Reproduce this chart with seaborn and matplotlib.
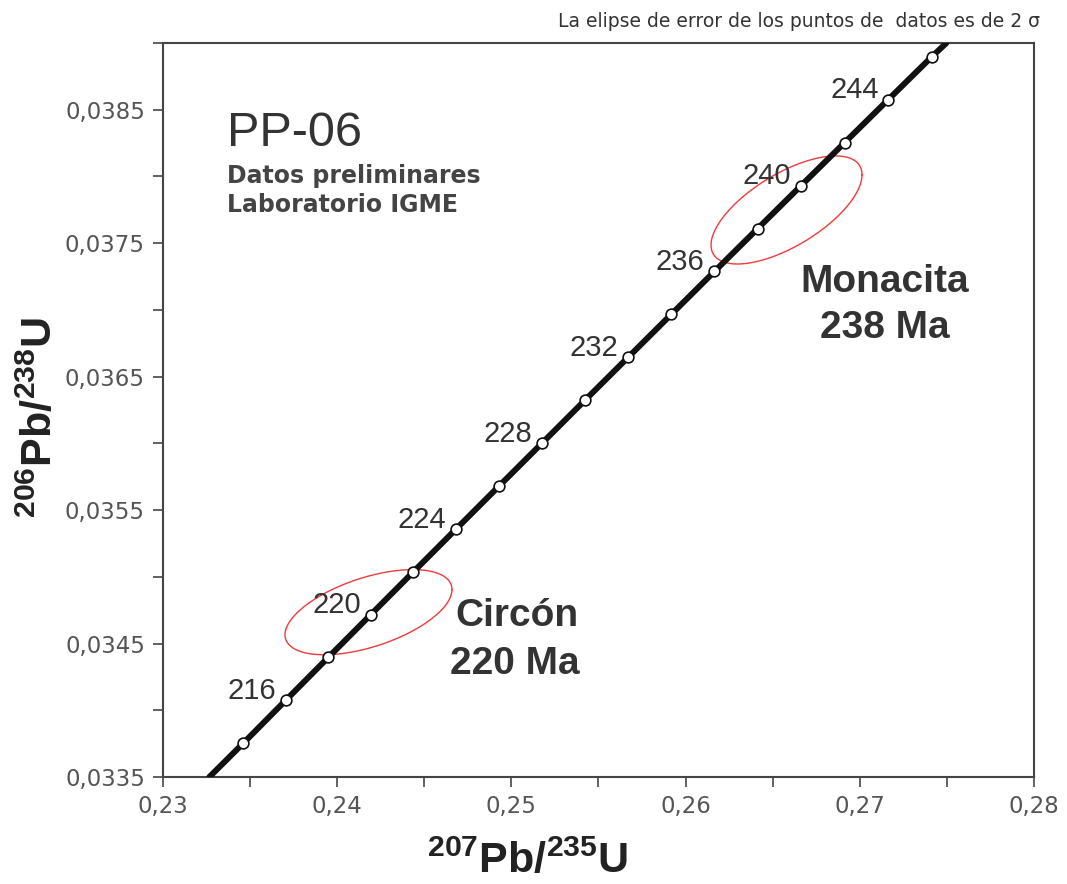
import numpy as np
import pandas as pd
import matplotlib
matplotlib.use("Agg")
import matplotlib.pyplot as plt
import seaborn as sns
from matplotlib.ticker import FuncFormatter, MultipleLocator

# Concordia ages (Ma) and their isotope ratios
ages = [214, 216, 218, 220, 222, 224, 226, 228, 230, 232, 234, 236, 238, 240, 242, 244, 246]
pb207_u235 = [0.234614, 0.237048, 0.239487, 0.241931, 0.244379, 0.246833, 0.249291,
              0.251754, 0.254222, 0.256695, 0.259173, 0.261655, 0.264143, 0.266635,
              0.269133, 0.271635, 0.274142]
pb206_u238 = [0.033754, 0.034075, 0.034396, 0.034717, 0.035038, 0.035359, 0.035680,
              0.036001, 0.036323, 0.036644, 0.036966, 0.037288, 0.037610, 0.037932,
              0.038254, 0.038576, 0.038898]
labelled_ages = [216, 220, 224, 228, 232, 236, 240, 244]

# Concordia continues to the plot edges
curve_x = [0.23266] + pb207_u235 + [0.27497]
curve_y = [0.0335] + pb206_u238 + [0.0390]

# 2-sigma error ellipses: centre, half-widths and correlation
ell_names = ["Circón", "Monacita"]
ell_cx = [0.241797, 0.265793]
ell_cy = [0.034735, 0.037749]
ell_sx = [0.004793, 0.004334]
ell_sy = [0.000319, 0.000405]
ell_rho = [0.53, 0.65]

x_ticks = [0.23, 0.24, 0.25, 0.26, 0.27, 0.28]
y_ticks = [0.0335, 0.0345, 0.0355, 0.0365, 0.0375, 0.0385]

sns.set_theme(style="white")
plt.rcParams["font.family"] = ["Liberation Sans", "DejaVu Sans"]
plt.rcParams["mathtext.fontset"] = "custom"
plt.rcParams["mathtext.rm"] = "Liberation Sans"
plt.rcParams["mathtext.bf"] = "Liberation Sans:bold"

W, H = 1067, 884
fig = plt.figure(figsize=(W / 100, H / 100), dpi=100)
L, R, T, B = 163, 1034, 43, 777
ax = fig.add_axes([L / W, 1 - B / H, (R - L) / W, (B - T) / H])

def axfrac(px, py):
    return (px - L) / (R - L), (B - py) / (B - T)

# error ellipses
theta = np.linspace(0, 2 * np.pi, 300)
for cx, cy, sx, sy, r in zip(ell_cx, ell_cy, ell_sx, ell_sy, ell_rho):
    ex = cx + sx * np.cos(theta)
    ey = cy + sy * (r * np.cos(theta) + np.sqrt(1 - r ** 2) * np.sin(theta))
    ax.plot(ex, ey, color="#ee3b3b", lw=1.0, zorder=2)

# concordia curve and age markers
curve = pd.DataFrame({"x": curve_x, "y": curve_y})
sns.lineplot(data=curve, x="x", y="y", sort=False, color="#111111", lw=4.3,
             ax=ax, zorder=3)
pts = pd.DataFrame({"age": ages, "x": pb207_u235, "y": pb206_u238})
sns.scatterplot(data=pts, x="x", y="y", s=60, color="white", edgecolor="#111111",
                linewidth=1.2, ax=ax, zorder=4)

for a, x, y in zip(ages, pb207_u235, pb206_u238):
    if a in labelled_ages:
        ax.annotate(str(a), (x, y), xytext=(-7, 1), textcoords="offset points",
                    ha="right", va="baseline", fontsize=21, color="#333333",
                    zorder=5)

ax.set_xlim(0.23, 0.28)
ax.set_ylim(0.0335, 0.0390)
ax.set_xticks(x_ticks)
ax.set_yticks(y_ticks)
ax.xaxis.set_minor_locator(MultipleLocator(0.005))
ax.yaxis.set_minor_locator(MultipleLocator(0.0005))
ax.xaxis.set_major_formatter(FuncFormatter(lambda v, p: f"{v:.2f}".replace(".", ",")))
ax.yaxis.set_major_formatter(FuncFormatter(lambda v, p: f"{v:.4f}".replace(".", ",")))
ax.tick_params(axis="both", which="both", direction="out", length=7, width=1.3,
               color="#555555", bottom=True, left=True, top=False, right=False)
ax.tick_params(axis="both", which="major", labelsize=16.5, labelcolor="#555555", pad=6)
for lab in ax.get_xticklabels() + ax.get_yticklabels():
    lab.set_family("DejaVu Sans")
for sp in ax.spines.values():
    sp.set_color("#444444")
    sp.set_linewidth(1.5)
ax.set_xlabel("")
ax.set_ylabel("")

# annotations inside the plot
ax.text(*axfrac(227, 146), "PP-06", transform=ax.transAxes, fontsize=35,
        color="#333333", va="baseline")
ax.text(*axfrac(227, 183), "Datos preliminares", transform=ax.transAxes,
        fontsize=17, fontweight="bold", family="DejaVu Sans", color="#444444",
        va="baseline")
ax.text(*axfrac(227, 212), "Laboratorio IGME", transform=ax.transAxes,
        fontsize=17, fontweight="bold", family="DejaVu Sans", color="#444444",
        va="baseline")
ax.text(*axfrac(800, 292), "Monacita", transform=ax.transAxes, fontsize=28,
        fontweight="bold", color="#333333", va="baseline")
ax.text(*axfrac(820, 338), "238 Ma", transform=ax.transAxes, fontsize=28,
        fontweight="bold", color="#333333", va="baseline")
ax.text(*axfrac(455, 626), "Circón", transform=ax.transAxes, fontsize=28,
        fontweight="bold", color="#333333", va="baseline")
ax.text(*axfrac(450, 674), "220 Ma", transform=ax.transAxes, fontsize=28,
        fontweight="bold", color="#333333", va="baseline")

# axis titles and note
fig.text(527 / W, 1.5 / H, r"$^{\mathbf{207}}\mathbf{Pb/}^{\mathbf{235}}\mathbf{U}$",
         fontsize=31, color="#222222", ha="center", va="bottom")
fig.text(40 / W, 1 - 418 / H, r"$^{\mathbf{206}}\mathbf{Pb/}^{\mathbf{238}}\mathbf{U}$",
         fontsize=31, color="#222222", ha="center", va="center", rotation=90)
fig.text(1040 / W, 1 - 27 / H, "La elipse de error de los puntos de  datos es de 2 σ",
         fontsize=13.5, family="DejaVu Sans", color="#333333", ha="right", va="baseline")

fig.savefig("out.png", dpi=100)
